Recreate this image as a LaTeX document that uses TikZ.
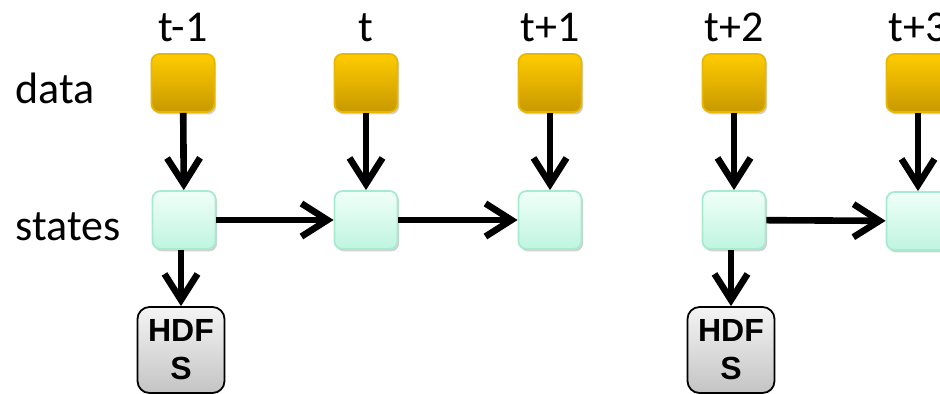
\documentclass[tikz,border=0pt]{standalone}
\usepackage{fontspec}
\setmainfont{Carlito}
\newfontfamily\hdfsfont{Liberation Sans}
\usetikzlibrary{arrows.meta,shadows}

\definecolor{datatop}{HTML}{FFCC00}
\definecolor{databot}{HTML}{C89800}
\definecolor{dataline}{HTML}{E8B800}
\definecolor{statetop}{HTML}{F0FFF9}
\definecolor{statebot}{HTML}{BFF5E0}
\definecolor{stateline}{HTML}{A6EBCF}
\definecolor{hdfstop}{HTML}{F4F4F4}
\definecolor{hdfsbot}{HTML}{C4C4C4}

\begin{document}
\begin{tikzpicture}[x=0.5pt,y=-0.5pt,>={Straight Barb[length=13pt,width=16.5pt]},
	box/.style={rounded corners=4pt,line width=0.9pt,minimum width=31.5pt,minimum height=29pt,inner sep=0pt,
		drop shadow={shadow xshift=0.8pt,shadow yshift=-1.2pt,opacity=0.18,fill=black}},
	datanode/.style={box,draw=dataline,top color=datatop,bottom color=databot},
	statenode/.style={box,draw=stateline,top color=statetop,bottom color=statebot},
	hdfsnode/.style={rounded corners=6pt,draw=black,line width=0.9pt,top color=hdfstop,bottom color=hdfsbot,
		minimum width=43.5pt,minimum height=43pt,inner sep=0pt,align=center,
		font=\hdfsfont\bfseries\fontsize{16}{19}\selectfont},
	lbl/.style={anchor=base,inner sep=0pt,font=\fontsize{22}{26}\selectfont},
	flow/.style={->,line width=3.3pt}]
	\useasboundingbox (0,0) rectangle (940,393);
	\clip (0,0) rectangle (940,393);
	
	\node[lbl] (l1) at (183,41) {t-1};
	\node[lbl] (l2) at (366,41) {t};
	\node[lbl] (l3) at (550,41) {t+1};
	\node[lbl] (l4) at (734,41) {t+2};
	\node[lbl] (l5) at (918,41) {t+3};
	\node[lbl,anchor=base west] (rowdata) at (15,103) {data};
	\node[lbl,anchor=base west] (rowstates) at (15,240) {states};
	
	\node[datanode] (d1) at (183,83) {};
	\node[datanode] (d2) at (366,83) {};
	\node[datanode] (d3) at (550,83) {};
	\node[datanode] (d4) at (734,83) {};
	\node[datanode] (d5) at (918,83) {};
	
	\node[statenode] (s1) at (184,220) {};
	\node[statenode] (s2) at (366,220) {};
	\node[statenode] (s3) at (550,220) {};
	\node[statenode] (s4) at (734,220) {};
	\node[statenode] (s5) at (918,221) {};
	
	\node[hdfsnode] (h1) at (181,350) {HDF\\S};
	\node[hdfsnode] (h2) at (731,350) {HDF\\S};
	
	\draw[flow] (d1) -- (s1);
	\draw[flow] (d2) -- (s2);
	\draw[flow] (d3) -- (s3);
	\draw[flow] (d4) -- (s4);
	\draw[flow] (d5) -- (s5);
	
	\draw[flow] (s1) -- (s2);
	\draw[flow] (s2) -- (s3);
	\draw[flow] (s4) -- (s5);
	
	\draw[flow] (s1.south -| h1.north) -- (h1.north);
	\draw[flow] (s4.south -| h2.north) -- (h2.north);
\end{tikzpicture}
\end{document}
